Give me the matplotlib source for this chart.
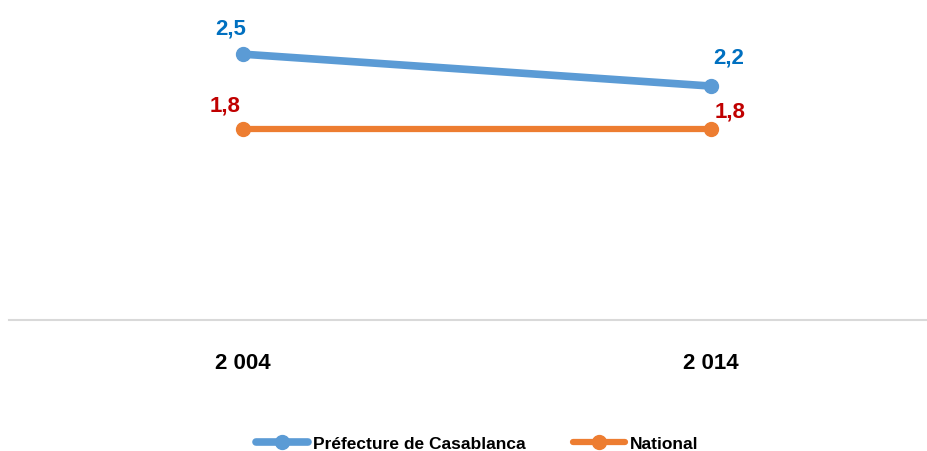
import matplotlib
matplotlib.use("Agg")
from matplotlib import pyplot as plt

years = ['2 004', '2 014']
casa = [2.5, 2.2]
national = [1.8, 1.8]
labels = ['Préfecture de Casablanca', 'National']

plt.rcParams['font.family'] = ['Liberation Sans', 'DejaVu Sans']

fig = plt.figure(figsize=(9.27, 4.52), dpi=100)
# axes runs a bit past the right edge, as in the cropped original
ax = fig.add_axes([9 / 927, 131 / 452, 936 / 927, 319 / 452])

x = list(range(len(years)))
ax.plot(x, casa, color='#5B9BD5', lw=5.5, marker='o', ms=10, label=labels[0],
        solid_capstyle='round', zorder=3)
ax.plot(x, national, color='#ED7D31', lw=4.5, marker='o', ms=10, label=labels[1],
        solid_capstyle='round', zorder=3)

# data labels (offsets in points)
blue_off = [(-9, 19), (13, 21)]
red_off = [(-13, 17), (14, 13)]
for i, v in enumerate(casa):
    ax.annotate(f'{v:.1f}'.replace('.', ','), (x[i], v), xytext=blue_off[i],
                textcoords='offset points', ha='center', va='center',
                color='#0070C0', fontsize=16, fontweight='bold')
for i, v in enumerate(national):
    ax.annotate(f'{v:.1f}'.replace('.', ','), (x[i], v), xytext=red_off[i],
                textcoords='offset points', ha='center', va='center',
                color='#C00000', fontsize=16, fontweight='bold')

ax.set_xlim(-0.5, 1.5)
ax.set_ylim(0, 3)
ax.set_xticks(x)
ax.set_xticklabels(years, fontsize=16, fontweight='bold')
ax.tick_params(axis='x', length=0, pad=23)
ax.set_yticks([])
for s in ['top', 'right', 'left']:
    ax.spines[s].set_visible(False)
ax.spines['bottom'].set_color('#D9D9D9')
ax.spines['bottom'].set_linewidth(1.5)

fig.legend(loc='center', bbox_to_anchor=(0.515, 0.017), ncol=2, frameon=False,
           prop={'size': 12.5, 'weight': 'bold'}, handlelength=3.0,
           handletextpad=0.3, columnspacing=2.7, borderpad=0)

fig.savefig('out.png', dpi=100)
